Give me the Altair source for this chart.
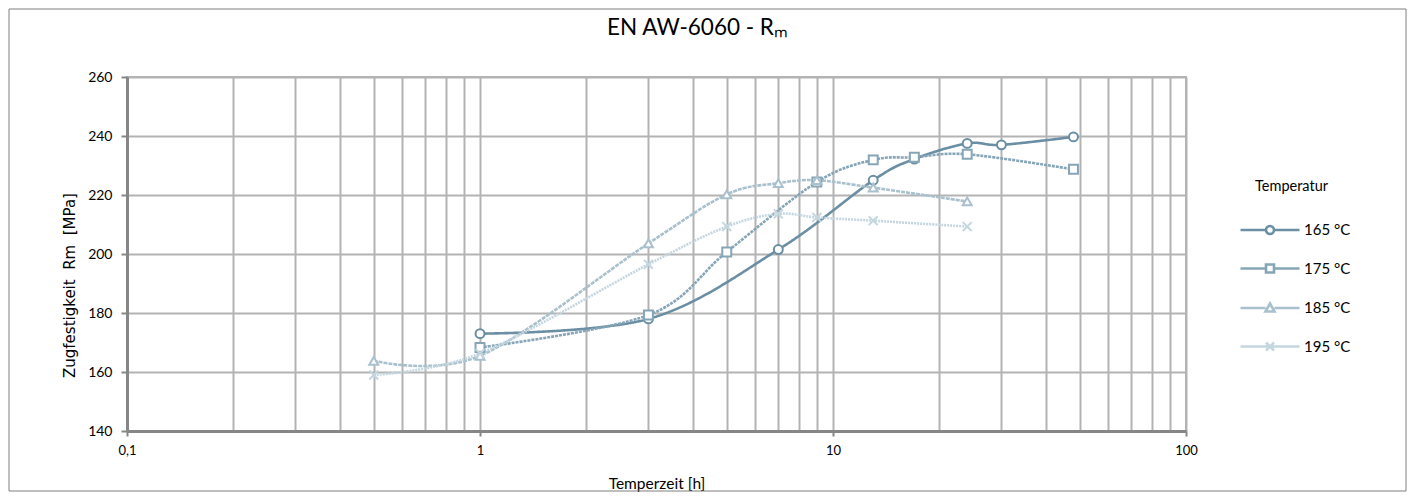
import altair as alt
import pandas as pd

# ---- data ----
series = ["165 °C", "175 °C", "185 °C", "195 °C"]
t165 = [1, 3, 7, 13, 17, 24, 30, 48]
r165 = [173.0, 178.0, 201.5, 225.0, 232.2, 237.5, 237.0, 239.7]
t175 = [1, 3, 5, 9, 13, 17, 24, 48]
r175 = [168.3, 179.3, 200.7, 224.4, 231.9, 232.8, 233.8, 228.7]
t185 = [0.5, 1, 3, 5, 7, 9, 13, 24]
r185 = [163.8, 165.5, 203.6, 220.2, 224.0, 225.0, 222.5, 217.8]
t195 = [0.5, 1, 3, 5, 7, 9, 13, 24]
r195 = [159.0, 166.3, 196.5, 209.3, 213.6, 212.4, 211.3, 209.3]

x_grid = [0.1, 0.2, 0.3, 0.4, 0.5, 0.6, 0.7, 0.8, 0.9,
          1, 2, 3, 4, 5, 6, 7, 8, 9,
          10, 20, 30, 40, 50, 60, 70, 80, 90, 100]
y_ticks = [140, 160, 180, 200, 220, 240, 260]

colors = ["#6a8ea3", "#86a5b7", "#a9c0cd", "#c4d6df"]
dashes = [[1, 0], [3, 1], [4, 1], [2, 1]]
marker_paths = [
    "circle",
    "square",
    "triangle-up",
    "M-1,-1L1,1M-1,1L1,-1",
]
legend_paths = [
    "M-4.4,0L0.7,0M2.3,0L7.4,0M0.7,0A0.8,0.8 0 1,0 2.3,0A0.8,0.8 0 1,0 0.7,0Z",
    "M-4.4,0L0.7,0M2.3,0L7.4,0M0.7,-0.8L2.3,-0.8L2.3,0.8L0.7,0.8Z",
    "M-4.4,0L0.6,0M2.4,0L7.4,0M1.5,-0.9L2.4,0.7L0.6,0.7Z",
    "M-4.4,0L7.4,0M0.7,-0.8L2.3,0.8M0.7,0.8L2.3,-0.8",
]

rows = []
for name, ts, rs in zip(series, [t165, t175, t185, t195], [r165, r175, r185, r195]):
    for i, (t, r) in enumerate(zip(ts, rs)):
        rows.append({"series": name, "t": t, "r": r, "order": i, "lseries": name})
df = pd.DataFrame(rows)

FONT = "Lato"
W, H = 1059, 354

x_enc = alt.X(
    "t:Q",
    scale=alt.Scale(type="log", domain=[0.1, 100], nice=False),
    axis=alt.Axis(
        title="Temperzeit [h]",
        values=x_grid,
        labelExpr="indexof([0.1,1,10,100], datum.value) >= 0 ? replace(format(datum.value, ''), '.', ',') : ''",
        tickOpacity={"condition": {"test": "indexof([0.1,1,10,100], datum.value) >= 0", "value": 1}, "value": 0},
        tickSize=5,
        labelPadding=8,
        labelFontSize=13,
        titleFontSize=15.5,
        titlePadding=19,
        labelFlush=False,
        labelOverlap=False,
    ),
)
y_enc = alt.Y(
    "r:Q",
    scale=alt.Scale(domain=[140, 260], nice=False, zero=False),
    axis=alt.Axis(
        title="Zugfestigkeit\u00a0\u00a0Rm\u00a0\u00a0[MPa]",
        values=y_ticks,
        tickSize=6,
        labelPadding=9,
        labelFontSize=14,
        titleFont="DejaVu Sans",
        titleFontSize=15,
        titlePadding=10,
        titleY=208,
    ),
)
color_enc = alt.Color("series:N", scale=alt.Scale(domain=series, range=colors), legend=None)

base = alt.Chart(df)

lines = base.mark_line(interpolate="cardinal", strokeWidth=2.6).encode(
    x=x_enc, y=y_enc, color=color_enc,
    strokeDash=alt.StrokeDash("series:N", scale=alt.Scale(domain=series, range=dashes), legend=None),
    detail="series:N", order="order:Q",
)

points = base.mark_point(filled=False, strokeWidth=2, size=80, fill="white", fillOpacity=1).encode(
    x="t:Q", y="r:Q", color=color_enc,
    shape=alt.Shape("series:N", scale=alt.Scale(domain=series, range=marker_paths), legend=None),
)

legend_layer = base.mark_point(filled=False, opacity=0, size=1).encode(
    x="t:Q", y="r:Q",
    color=alt.Color("series:N", scale=alt.Scale(domain=series, range=colors), legend=None),
    shape=alt.Shape(
        "lseries:N",
        scale=alt.Scale(domain=series, range=legend_paths),
        legend=alt.Legend(
            title="Temperatur",
            orient="none",
            legendX=W + 69,
            legendY=103,
            symbolSize=100,
            symbolStrokeWidth=2.6,
            symbolOpacity=1,
            symbolStrokeColor={"expr": "scale('color', datum.value)"},
            labelOffset=34,
            rowPadding=19.5,
            titlePadding=28,
            titleFontSize=14.5,
            titleFontWeight="normal",
            titleFont=FONT,
            labelFont=FONT,
            labelFontSize=15,
            labelColor="#000000",
            titleColor="#000000",
        ),
    ),
)

border = alt.Chart(pd.DataFrame({"a": [0]})).mark_rect(
    fill=None, stroke="#7f7f7f", strokeWidth=1
).encode(
    x=alt.value(-118), x2=alt.value(W + 220), y=alt.value(-68), y2=alt.value(H + 60)
)

chart = alt.layer(border, lines, points, legend_layer).resolve_scale(
    shape="independent"
).properties(
    width=W,
    height=H,
    autosize="none",
    padding={"left": 119, "top": 69, "right": 221, "bottom": 61},
    title=alt.TitleParams(
        "EN AW-6060 - Rₘ", fontSize=22.5, font=FONT, fontWeight="normal",
        anchor="middle", dx=41, offset=-31, color="#000000",
    ),
).configure_view(
    stroke="#b3b3b3", strokeWidth=2
).configure_axis(
    gridColor="#b3b3b3", gridWidth=2, gridOpacity=1,
    domainColor="#868686", domainWidth=3,
    tickColor="#868686", tickWidth=2,
    labelFont=FONT, titleFont=FONT,
    titleFontWeight="normal", labelColor="#000000", titleColor="#000000",
)

chart.save("out.html", embed_options={"renderer": "svg", "actions": False})
